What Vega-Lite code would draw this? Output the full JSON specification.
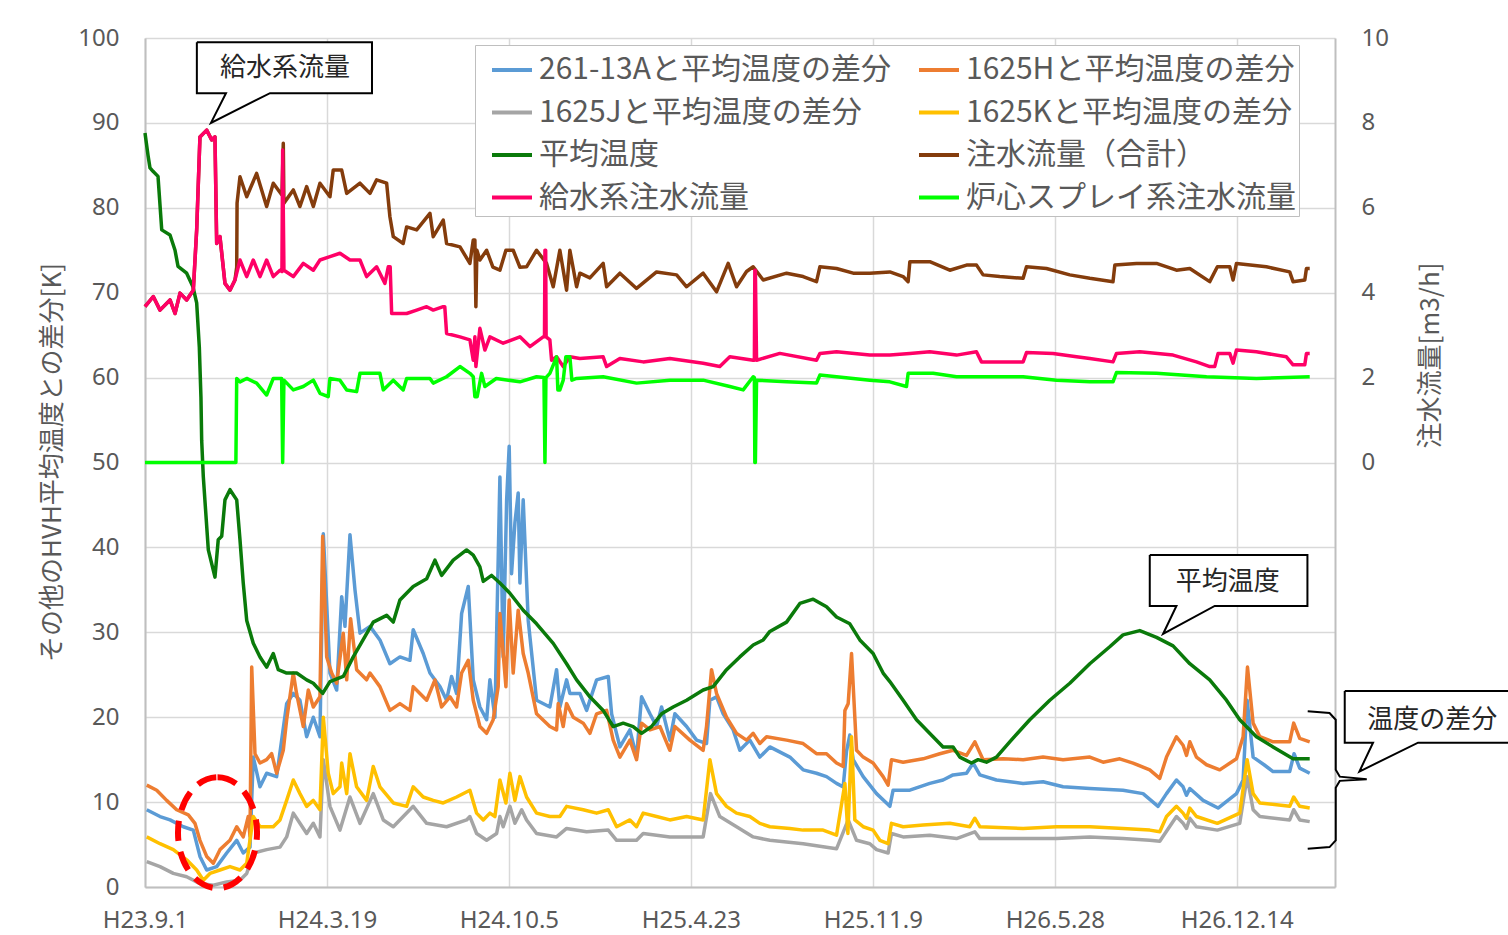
{
"$schema": "https://vega.github.io/schema/vega-lite/v6.json",
"width": 1190, "height": 849,
"autosize": "none",
"padding": {"left": 145, "top": 38, "right": 173, "bottom": 48},
"background": "white",
"config": {
  "view": {"stroke": null},
  "font": "Noto Sans",
  "axis": {"labelFont": "Noto Sans", "labelFontSize": 24, "labelColor": "#595959", "titleFont": "Noto Sans CJK JP", "titleFontSize": 26, "titleColor": "#595959", "titleFontWeight": "normal", "ticks": false, "domainColor": "#BFBFBF", "domainWidth": 2, "gridColor": "#D9D9D9", "gridWidth": 1.5, "labelFlush": false, "labelOverlap": false}
},
"datasets": {
"temp": [
{"series":"261-13Aと平均温度の差分","day":1.9,"value":9.1},{"series":"261-13Aと平均温度の差分","day":16.5,"value":8.3},{"series":"261-13Aと平均温度の差分","day":27.5,"value":7.9},{"series":"261-13Aと平均温度の差分","day":42.1,"value":7.1},{"series":"261-13Aと平均温度の差分","day":53.1,"value":6.7},{"series":"261-13Aと平均温度の差分","day":60.4,"value":3.6},{"series":"261-13Aと平均温度の差分","day":67.8,"value":2.0},{"series":"261-13Aと平均温度の差分","day":78.8,"value":2.4},{"series":"261-13Aと平均温度の差分","day":89.8,"value":4.0},{"series":"261-13Aと平均温度の差分","day":100.8,"value":5.5},{"series":"261-13Aと平均温度の差分","day":108,"value":4.0},{"series":"261-13Aと平均温度の差分","day":115.4,"value":4.7},{"series":"261-13Aと平均温度の差分","day":119,"value":15.3},{"series":"261-13Aと平均温度の差分","day":126.4,"value":11.8},{"series":"261-13Aと平均温度の差分","day":133.7,"value":13.4},{"series":"261-13Aと平均温度の差分","day":144.7,"value":13.0},{"series":"261-13Aと平均温度の差分","day":155.7,"value":21.6},{"series":"261-13Aと平均温度の差分","day":163,"value":22.8},{"series":"261-13Aと平均温度の差分","day":170.3,"value":22.0},{"series":"261-13Aと平均温度の差分","day":177.7,"value":17.7},{"series":"261-13Aと平均温度の差分","day":185,"value":20.0},{"series":"261-13Aと平均温度の差分","day":192.3,"value":17.7},{"series":"261-13Aと平均温度の差分","day":196,"value":41.6},{"series":"261-13Aと平均温度の差分","day":203.3,"value":25.2},{"series":"261-13Aと平均温度の差分","day":210.7,"value":23.2},{"series":"261-13Aと平均温度の差分","day":216.2,"value":34.2},{"series":"261-13Aと平均温度の差分","day":219.8,"value":30.7},{"series":"261-13Aと平均温度の差分","day":225.3,"value":41.5},{"series":"261-13Aと平均温度の差分","day":230.8,"value":35.0},{"series":"261-13Aと平均温度の差分","day":236.3,"value":29.9},{"series":"261-13Aと平均温度の差分","day":247.3,"value":30.7},{"series":"261-13Aと平均温度の差分","day":258.2,"value":29.1},{"series":"261-13Aと平均温度の差分","day":269.2,"value":26.3},{"series":"261-13Aと平均温度の差分","day":280.2,"value":27.1},{"series":"261-13Aと平均温度の差分","day":291.2,"value":26.7},{"series":"261-13Aと平均温度の差分","day":294.8,"value":30.3},{"series":"261-13Aと平均温度の差分","day":305.8,"value":27.5},{"series":"261-13Aと平均温度の差分","day":313.2,"value":25.2},{"series":"261-13Aと平均温度の差分","day":324.2,"value":23.6},{"series":"261-13Aと平均温度の差分","day":331.5,"value":22.0},{"series":"261-13Aと平均温度の差分","day":337,"value":24.8},{"series":"261-13Aと平均温度の差分","day":342.5,"value":22.8},{"series":"261-13Aと平均温度の差分","day":348,"value":32.2},{"series":"261-13Aと平均温度の差分","day":355.3,"value":35.4},{"series":"261-13Aと平均温度の差分","day":360.8,"value":24.4},{"series":"261-13Aと平均温度の差分","day":368.1,"value":21.2},{"series":"261-13Aと平均温度の差分","day":375.5,"value":19.7},{"series":"261-13Aと平均温度の差分","day":379.1,"value":24.4},{"series":"261-13Aと平均温度の差分","day":384.6,"value":20.0},{"series":"261-13Aと平均温度の差分","day":390.1,"value":48.3},{"series":"261-13Aと平均温度の差分","day":393.7,"value":27.1},{"series":"261-13Aと平均温度の差分","day":397.5,"value":45.6},{"series":"261-13Aと平均温度の差分","day":400.3,"value":51.9},{"series":"261-13Aと平均温度の差分","day":402.9,"value":36.9},{"series":"261-13Aと平均温度の差分","day":406.6,"value":42.9},{"series":"261-13Aと平均温度の差分","day":410.2,"value":46.4},{"series":"261-13Aと平均温度の差分","day":412.1,"value":35.8},{"series":"261-13Aと平均温度の差分","day":415.7,"value":45.6},{"series":"261-13Aと平均温度の差分","day":421.2,"value":31.4},{"series":"261-13Aと平均温度の差分","day":430.4,"value":22.0},{"series":"261-13Aと平均温度の差分","day":445,"value":21.2},{"series":"261-13Aと平均温度の差分","day":452.4,"value":25.6},{"series":"261-13Aと平均温度の差分","day":456,"value":21.2},{"series":"261-13Aと平均温度の差分","day":463.4,"value":24.4},{"series":"261-13Aと平均温度の差分","day":467,"value":22.8},{"series":"261-13Aと平均温度の差分","day":478,"value":22.8},{"series":"261-13Aと平均温度の差分","day":485.4,"value":20.8},{"series":"261-13Aと平均温度の差分","day":496.4,"value":24.4},{"series":"261-13Aと平均温度の差分","day":509.2,"value":24.8},{"series":"261-13Aと平均温度の差分","day":512.9,"value":20.4},{"series":"261-13Aと平均温度の差分","day":522,"value":16.5},{"series":"261-13Aと平均温度の差分","day":533,"value":18.5},{"series":"261-13Aと平均温度の差分","day":540.3,"value":15.3},{"series":"261-13Aと平均温度の差分","day":545.8,"value":22.4},{"series":"261-13Aと平均温度の差分","day":555,"value":20.4},{"series":"261-13Aと平均温度の差分","day":562.3,"value":18.9},{"series":"261-13Aと平均温度の差分","day":567.8,"value":21.2},{"series":"261-13Aと平均温度の差分","day":576.9,"value":17.3},{"series":"261-13Aと平均温度の差分","day":582.4,"value":20.4},{"series":"261-13Aと平均温度の差分","day":595.3,"value":18.9},{"series":"261-13Aと平均温度の差分","day":606.3,"value":17.3},{"series":"261-13Aと平均温度の差分","day":617.2,"value":16.9},{"series":"261-13Aと平均温度の差分","day":620.9,"value":22.0},{"series":"261-13Aと平均温度の差分","day":628.2,"value":22.4},{"series":"261-13Aと平均温度の差分","day":635.5,"value":20.4},{"series":"261-13Aと平均温度の差分","day":646.5,"value":18.5},{"series":"261-13Aと平均温度の差分","day":653.8,"value":16.1},{"series":"261-13Aと平均温度の差分","day":664.8,"value":17.3},{"series":"261-13Aと平均温度の差分","day":675.8,"value":15.3},{"series":"261-13Aと平均温度の差分","day":686.8,"value":16.5},{"series":"261-13Aと平均温度の差分","day":708.8,"value":15.3},{"series":"261-13Aと平均温度の差分","day":723.4,"value":13.8},{"series":"261-13Aと平均温度の差分","day":738.1,"value":13.4},{"series":"261-13Aと平均温度の差分","day":749.1,"value":13.0},{"series":"261-13Aと平均温度の差分","day":760.1,"value":12.2},{"series":"261-13Aと平均温度の差分","day":767.4,"value":11.8},{"series":"261-13Aと平均温度の差分","day":771.1,"value":16.0},{"series":"261-13Aと平均温度の差分","day":774.7,"value":17.9},{"series":"261-13Aと平均温度の差分","day":778.4,"value":15.0},{"series":"261-13Aと平均温度の差分","day":789.4,"value":13.0},{"series":"261-13Aと平均温度の差分","day":804.1,"value":11.0},{"series":"261-13Aと平均温度の差分","day":815,"value":9.9},{"series":"261-13Aと平均温度の差分","day":818.7,"value":9.5},{"series":"261-13Aと平均温度の差分","day":822.3,"value":11.4},{"series":"261-13Aと平均温度の差分","day":840.7,"value":11.4},{"series":"261-13Aと平均温度の差分","day":862.6,"value":12.2},{"series":"261-13Aと平均温度の差分","day":877.2,"value":12.6},{"series":"261-13Aと平均温度の差分","day":888.2,"value":13.2},{"series":"261-13Aと平均温度の差分","day":903,"value":13.4},{"series":"261-13Aと平均温度の差分","day":910.3,"value":14.6},{"series":"261-13Aと平均温度の差分","day":917.6,"value":13.2},{"series":"261-13Aと平均温度の差分","day":935.9,"value":12.6},{"series":"261-13Aと平均温度の差分","day":965.2,"value":12.2},{"series":"261-13Aと平均温度の差分","day":987.1,"value":12.4},{"series":"261-13Aと平均温度の差分","day":1009.1,"value":11.8},{"series":"261-13Aと平均温度の差分","day":1038.5,"value":11.6},{"series":"261-13Aと平均温度の差分","day":1075,"value":11.4},{"series":"261-13Aと平均温度の差分","day":1097,"value":11.0},{"series":"261-13Aと平均温度の差分","day":1113.5,"value":9.5},{"series":"261-13Aと平均温度の差分","day":1122.8,"value":11.0},{"series":"261-13Aと平均温度の差分","day":1133.7,"value":12.6},{"series":"261-13Aと平均温度の差分","day":1141,"value":11.8},{"series":"261-13Aと平均温度の差分","day":1144.8,"value":10.8},{"series":"261-13Aと平均温度の差分","day":1148.4,"value":11.6},{"series":"261-13Aと平均温度の差分","day":1163,"value":10.2},{"series":"261-13Aと平均温度の差分","day":1179.5,"value":9.3},{"series":"261-13Aと平均温度の差分","day":1199.7,"value":11.0},{"series":"261-13Aと平均温度の差分","day":1207,"value":12.6},{"series":"261-13Aと平均温度の差分","day":1211.4,"value":22.0},{"series":"261-13Aと平均温度の差分","day":1218,"value":15.3},{"series":"261-13Aと平均温度の差分","day":1230,"value":14.4},{"series":"261-13Aと平均温度の差分","day":1239.9,"value":13.6},{"series":"261-13Aと平均温度の差分","day":1258.2,"value":13.6},{"series":"261-13Aと平均温度の差分","day":1263,"value":15.7},{"series":"261-13Aと平均温度の差分","day":1269.2,"value":14.0},{"series":"261-13Aと平均温度の差分","day":1280.2,"value":13.4},
{"series":"1625Hと平均温度の差分","day":1.9,"value":12.0},{"series":"1625Hと平均温度の差分","day":12.9,"value":11.4},{"series":"1625Hと平均温度の差分","day":23.8,"value":10.2},{"series":"1625Hと平均温度の差分","day":34.8,"value":9.1},{"series":"1625Hと平均温度の差分","day":47.6,"value":8.5},{"series":"1625Hと平均温度の差分","day":54.9,"value":7.5},{"series":"1625Hと平均温度の差分","day":60.4,"value":5.5},{"series":"1625Hと平均温度の差分","day":67.8,"value":3.6},{"series":"1625Hと平均温度の差分","day":75.1,"value":2.8},{"series":"1625Hと平均温度の差分","day":82.4,"value":4.4},{"series":"1625Hと平均温度の差分","day":93.4,"value":5.5},{"series":"1625Hと平均温度の差分","day":100.8,"value":7.1},{"series":"1625Hと平均温度の差分","day":108,"value":5.9},{"series":"1625Hと平均温度の差分","day":113.5,"value":8.3},{"series":"1625Hと平均温度の差分","day":115.4,"value":6.0},{"series":"1625Hと平均温度の差分","day":117.3,"value":25.9},{"series":"1625Hと平均温度の差分","day":120.9,"value":15.7},{"series":"1625Hと平均温度の差分","day":126.4,"value":14.6},{"series":"1625Hと平均温度の差分","day":133.7,"value":15.0},{"series":"1625Hと平均温度の差分","day":139.2,"value":15.7},{"series":"1625Hと平均温度の差分","day":144.7,"value":13.4},{"series":"1625Hと平均温度の差分","day":152,"value":16.1},{"series":"1625Hと平均温度の差分","day":155.7,"value":19.7},{"series":"1625Hと平均温度の差分","day":163,"value":25.2},{"series":"1625Hと平均温度の差分","day":166.6,"value":22.8},{"series":"1625Hと平均温度の差分","day":174,"value":18.9},{"series":"1625Hと平均温度の差分","day":179.5,"value":23.2},{"series":"1625Hと平均温度の差分","day":185,"value":21.2},{"series":"1625Hと平均温度の差分","day":192.3,"value":22.4},{"series":"1625Hと平均温度の差分","day":195.3,"value":41.3},{"series":"1625Hと平均温度の差分","day":199.7,"value":27.1},{"series":"1625Hと平均温度の差分","day":205.2,"value":25.2},{"series":"1625Hと平均温度の差分","day":210.7,"value":24.0},{"series":"1625Hと平均温度の差分","day":217.9,"value":29.9},{"series":"1625Hと平均温度の差分","day":221.7,"value":24.4},{"series":"1625Hと平均温度の差分","day":226,"value":31.6},{"series":"1625Hと平均温度の差分","day":232.6,"value":25.6},{"series":"1625Hと平均温度の差分","day":243.6,"value":24.4},{"series":"1625Hと平均温度の差分","day":247.3,"value":25.2},{"series":"1625Hと平均温度の差分","day":258.2,"value":23.6},{"series":"1625Hと平均温度の差分","day":269.2,"value":20.8},{"series":"1625Hと平均温度の差分","day":280.2,"value":21.6},{"series":"1625Hと平均温度の差分","day":291.2,"value":20.8},{"series":"1625Hと平均温度の差分","day":294.8,"value":23.6},{"series":"1625Hと平均温度の差分","day":302.2,"value":22.8},{"series":"1625Hと平均温度の差分","day":309.6,"value":22.0},{"series":"1625Hと平均温度の差分","day":318.7,"value":24.4},{"series":"1625Hと平均温度の差分","day":326,"value":21.2},{"series":"1625Hと平均温度の差分","day":335.2,"value":22.4},{"series":"1625Hと平均温度の差分","day":342.5,"value":21.2},{"series":"1625Hと平均温度の差分","day":348,"value":25.2},{"series":"1625Hと平均温度の差分","day":355.3,"value":26.7},{"series":"1625Hと平均温度の差分","day":360.8,"value":22.0},{"series":"1625Hと平均温度の差分","day":368.1,"value":18.9},{"series":"1625Hと平均温度の差分","day":375.5,"value":18.1},{"series":"1625Hと平均温度の差分","day":382.7,"value":19.7},{"series":"1625Hと平均温度の差分","day":388.2,"value":23.6},{"series":"1625Hと平均温度の差分","day":390.1,"value":32.2},{"series":"1625Hと平均温度の差分","day":396.7,"value":23.6},{"series":"1625Hと平均温度の差分","day":400.3,"value":33.8},{"series":"1625Hと平均温度の差分","day":404.7,"value":25.2},{"series":"1625Hと平均温度の差分","day":410.2,"value":32.6},{"series":"1625Hと平均温度の差分","day":415.7,"value":27.5},{"series":"1625Hと平均温度の差分","day":421.2,"value":25.2},{"series":"1625Hと平均温度の差分","day":430.4,"value":20.4},{"series":"1625Hと平均温度の差分","day":445,"value":18.9},{"series":"1625Hと平均温度の差分","day":452.4,"value":18.5},{"series":"1625Hと平均温度の差分","day":454.2,"value":21.6},{"series":"1625Hと平均温度の差分","day":459.7,"value":18.9},{"series":"1625Hと平均温度の差分","day":463.4,"value":21.6},{"series":"1625Hと平均温度の差分","day":470.7,"value":20.0},{"series":"1625Hと平均温度の差分","day":481.7,"value":19.3},{"series":"1625Hと平均温度の差分","day":489,"value":18.1},{"series":"1625Hと平均温度の差分","day":496.4,"value":20.4},{"series":"1625Hと平均温度の差分","day":507.4,"value":20.8},{"series":"1625Hと平均温度の差分","day":514.6,"value":17.3},{"series":"1625Hと平均温度の差分","day":522,"value":15.3},{"series":"1625Hと平均温度の差分","day":533,"value":17.3},{"series":"1625Hと平均温度の差分","day":540.3,"value":15.0},{"series":"1625Hと平均温度の差分","day":545.8,"value":19.3},{"series":"1625Hと平均温度の差分","day":555,"value":18.5},{"series":"1625Hと平均温度の差分","day":566,"value":18.9},{"series":"1625Hと平均温度の差分","day":576.9,"value":16.1},{"series":"1625Hと平均温度の差分","day":582.4,"value":18.9},{"series":"1625Hと平均温度の差分","day":598.9,"value":17.3},{"series":"1625Hと平均温度の差分","day":613.5,"value":16.1},{"series":"1625Hと平均温度の差分","day":617.2,"value":18.9},{"series":"1625Hと平均温度の差分","day":622.7,"value":25.6},{"series":"1625Hと平均温度の差分","day":628.2,"value":22.8},{"series":"1625Hと平均温度の差分","day":639.2,"value":20.0},{"series":"1625Hと平均温度の差分","day":650.2,"value":18.1},{"series":"1625Hと平均温度の差分","day":661.2,"value":17.3},{"series":"1625Hと平均温度の差分","day":668.5,"value":18.1},{"series":"1625Hと平均温度の差分","day":675.8,"value":16.9},{"series":"1625Hと平均温度の差分","day":683.2,"value":17.7},{"series":"1625Hと平均温度の差分","day":705.2,"value":17.3},{"series":"1625Hと平均温度の差分","day":723.4,"value":16.9},{"series":"1625Hと平均温度の差分","day":738.1,"value":15.7},{"series":"1625Hと平均温度の差分","day":749.1,"value":15.7},{"series":"1625Hと平均温度の差分","day":760.1,"value":14.6},{"series":"1625Hと平均温度の差分","day":767.4,"value":14.2},{"series":"1625Hと平均温度の差分","day":769.3,"value":20.8},{"series":"1625Hと平均温度の差分","day":772.9,"value":21.6},{"series":"1625Hと平均温度の差分","day":776.6,"value":27.5},{"series":"1625Hと平均温度の差分","day":782.1,"value":16.1},{"series":"1625Hと平均温度の差分","day":789.4,"value":15.3},{"series":"1625Hと平均温度の差分","day":800.3,"value":14.6},{"series":"1625Hと平均温度の差分","day":811.3,"value":13.0},{"series":"1625Hと平均温度の差分","day":816.8,"value":12.0},{"series":"1625Hと平均温度の差分","day":820.5,"value":15.0},{"series":"1625Hと平均温度の差分","day":833.3,"value":14.7},{"series":"1625Hと平均温度の差分","day":855.3,"value":15.1},{"series":"1625Hと平均温度の差分","day":873.6,"value":15.7},{"series":"1625Hと平均温度の差分","day":888.2,"value":16.1},{"series":"1625Hと平均温度の差分","day":903,"value":15.5},{"series":"1625Hと平均温度の差分","day":912.1,"value":17.1},{"series":"1625Hと平均温度の差分","day":921.2,"value":15.0},{"series":"1625Hと平均温度の差分","day":943.2,"value":15.1},{"series":"1625Hと平均温度の差分","day":965.2,"value":15.0},{"series":"1625Hと平均温度の差分","day":987.1,"value":15.3},{"series":"1625Hと平均温度の差分","day":1009.1,"value":15.0},{"series":"1625Hと平均温度の差分","day":1038.5,"value":15.3},{"series":"1625Hと平均温度の差分","day":1053.1,"value":14.7},{"series":"1625Hと平均温度の差分","day":1071.4,"value":15.1},{"series":"1625Hと平均温度の差分","day":1086,"value":14.6},{"series":"1625Hと平均温度の差分","day":1104.4,"value":13.8},{"series":"1625Hと平均温度の差分","day":1115.4,"value":12.8},{"series":"1625Hと平均温度の差分","day":1122.8,"value":15.3},{"series":"1625Hと平均温度の差分","day":1133.7,"value":17.7},{"series":"1625Hと平均温度の差分","day":1141,"value":16.7},{"series":"1625Hと平均温度の差分","day":1144.8,"value":15.5},{"series":"1625Hと平均温度の差分","day":1148.4,"value":17.1},{"series":"1625Hと平均温度の差分","day":1155.7,"value":15.3},{"series":"1625Hと平均温度の差分","day":1166.8,"value":14.4},{"series":"1625Hと平均温度の差分","day":1181.3,"value":13.8},{"series":"1625Hと平均温度の差分","day":1199.7,"value":15.1},{"series":"1625Hと平均温度の差分","day":1207,"value":17.7},{"series":"1625Hと平均温度の差分","day":1211.8,"value":25.9},{"series":"1625Hと平均温度の差分","day":1218,"value":19.3},{"series":"1625Hと平均温度の差分","day":1225.4,"value":17.7},{"series":"1625Hと平均温度の差分","day":1239.9,"value":17.1},{"series":"1625Hと平均温度の差分","day":1258.2,"value":17.1},{"series":"1625Hと平均温度の差分","day":1262.6,"value":19.3},{"series":"1625Hと平均温度の差分","day":1269.2,"value":17.5},{"series":"1625Hと平均温度の差分","day":1280.2,"value":17.1},
{"series":"1625Jと平均温度の差分","day":1.9,"value":3.0},{"series":"1625Jと平均温度の差分","day":16.5,"value":2.4},{"series":"1625Jと平均温度の差分","day":31.1,"value":1.6},{"series":"1625Jと平均温度の差分","day":45.8,"value":1.2},{"series":"1625Jと平均温度の差分","day":60.4,"value":0.4},{"series":"1625Jと平均温度の差分","day":75.1,"value":0.2},{"series":"1625Jと平均温度の差分","day":89.8,"value":0.6},{"series":"1625Jと平均温度の差分","day":104.4,"value":0.8},{"series":"1625Jと平均温度の差分","day":111.8,"value":1.6},{"series":"1625Jと平均温度の差分","day":119,"value":4.0},{"series":"1625Jと平均温度の差分","day":133.7,"value":4.4},{"series":"1625Jと平均温度の差分","day":148.4,"value":4.7},{"series":"1625Jと平均温度の差分","day":155.7,"value":5.9},{"series":"1625Jと平均温度の差分","day":163,"value":8.7},{"series":"1625Jと平均温度の差分","day":170.3,"value":7.5},{"series":"1625Jと平均温度の差分","day":177.7,"value":6.3},{"series":"1625Jと平均温度の差分","day":185,"value":7.5},{"series":"1625Jと平均温度の差分","day":192.3,"value":5.9},{"series":"1625Jと平均温度の差分","day":196,"value":15.0},{"series":"1625Jと平均温度の差分","day":203.3,"value":9.5},{"series":"1625Jと平均温度の差分","day":214.3,"value":6.7},{"series":"1625Jと平均温度の差分","day":225.3,"value":10.6},{"series":"1625Jと平均温度の差分","day":236.3,"value":7.5},{"series":"1625Jと平均温度の差分","day":250.9,"value":11.0},{"series":"1625Jと平均温度の差分","day":261.9,"value":7.9},{"series":"1625Jと平均温度の差分","day":272.9,"value":7.1},{"series":"1625Jと平均温度の差分","day":294.8,"value":9.5},{"series":"1625Jと平均温度の差分","day":309.6,"value":7.5},{"series":"1625Jと平均温度の差分","day":331.5,"value":7.1},{"series":"1625Jと平均温度の差分","day":353.5,"value":7.9},{"series":"1625Jと平均温度の差分","day":357.1,"value":8.3},{"series":"1625Jと平均温度の差分","day":364.5,"value":6.3},{"series":"1625Jと平均温度の差分","day":375.5,"value":5.5},{"series":"1625Jと平均温度の差分","day":386.5,"value":6.3},{"series":"1625Jと平均温度の差分","day":390.1,"value":8.3},{"series":"1625Jと平均温度の差分","day":393.7,"value":7.1},{"series":"1625Jと平均温度の差分","day":401.1,"value":9.5},{"series":"1625Jと平均温度の差分","day":406.6,"value":7.5},{"series":"1625Jと平均温度の差分","day":414,"value":9.1},{"series":"1625Jと平均温度の差分","day":419.4,"value":7.9},{"series":"1625Jと平均温度の差分","day":430.4,"value":6.3},{"series":"1625Jと平均温度の差分","day":452.4,"value":5.9},{"series":"1625Jと平均温度の差分","day":463.4,"value":6.9},{"series":"1625Jと平均温度の差分","day":485.4,"value":6.5},{"series":"1625Jと平均温度の差分","day":509.2,"value":6.7},{"series":"1625Jと平均温度の差分","day":518.4,"value":5.5},{"series":"1625Jと平均温度の差分","day":540.3,"value":5.5},{"series":"1625Jと平均温度の差分","day":547.6,"value":6.3},{"series":"1625Jと平均温度の差分","day":576.9,"value":5.9},{"series":"1625Jと平均温度の差分","day":613.5,"value":5.9},{"series":"1625Jと平均温度の差分","day":621.6,"value":11.0},{"series":"1625Jと平均温度の差分","day":631.8,"value":8.3},{"series":"1625Jと平均温度の差分","day":650.2,"value":7.1},{"series":"1625Jと平均温度の差分","day":668.5,"value":5.9},{"series":"1625Jと平均温度の差分","day":686.8,"value":5.5},{"series":"1625Jと平均温度の差分","day":723.4,"value":5.1},{"series":"1625Jと平均温度の差分","day":760.1,"value":4.5},{"series":"1625Jと平均温度の差分","day":772.9,"value":7.9},{"series":"1625Jと平均温度の差分","day":782.1,"value":5.5},{"series":"1625Jと平均温度の差分","day":796.7,"value":5.1},{"series":"1625Jと平均温度の差分","day":804.1,"value":4.4},{"series":"1625Jと平均温度の差分","day":816.8,"value":4.0},{"series":"1625Jと平均温度の差分","day":820.5,"value":6.3},{"series":"1625Jと平均温度の差分","day":833.3,"value":5.9},{"series":"1625Jと平均温度の差分","day":862.6,"value":6.1},{"series":"1625Jと平均温度の差分","day":892,"value":5.7},{"series":"1625Jと平均温度の差分","day":912.1,"value":6.5},{"series":"1625Jと平均温度の差分","day":917.6,"value":5.7},{"series":"1625Jと平均温度の差分","day":965.2,"value":5.7},{"series":"1625Jと平均温度の差分","day":1001.8,"value":5.7},{"series":"1625Jと平均温度の差分","day":1038.5,"value":5.9},{"series":"1625Jと平均温度の差分","day":1075,"value":5.7},{"series":"1625Jと平均温度の差分","day":1104.4,"value":5.5},{"series":"1625Jと平均温度の差分","day":1115.4,"value":5.4},{"series":"1625Jと平均温度の差分","day":1133.7,"value":8.3},{"series":"1625Jと平均温度の差分","day":1141,"value":7.5},{"series":"1625Jと平均温度の差分","day":1144.8,"value":6.9},{"series":"1625Jと平均温度の差分","day":1148.4,"value":8.1},{"series":"1625Jと平均温度の差分","day":1155.7,"value":7.1},{"series":"1625Jと平均温度の差分","day":1178.7,"value":6.7},{"series":"1625Jと平均温度の差分","day":1203.3,"value":7.5},{"series":"1625Jと平均温度の差分","day":1211.4,"value":13.0},{"series":"1625Jと平均温度の差分","day":1218,"value":9.1},{"series":"1625Jと平均温度の差分","day":1225.4,"value":8.3},{"series":"1625Jと平均温度の差分","day":1258.2,"value":7.9},{"series":"1625Jと平均温度の差分","day":1262.6,"value":9.1},{"series":"1625Jと平均温度の差分","day":1269.2,"value":7.9},{"series":"1625Jと平均温度の差分","day":1280.2,"value":7.7},
{"series":"1625Kと平均温度の差分","day":1.9,"value":5.9},{"series":"1625Kと平均温度の差分","day":16.5,"value":5.1},{"series":"1625Kと平均温度の差分","day":31.1,"value":4.4},{"series":"1625Kと平均温度の差分","day":45.8,"value":3.2},{"series":"1625Kと平均温度の差分","day":56.8,"value":2.0},{"series":"1625Kと平均温度の差分","day":64.1,"value":0.8},{"series":"1625Kと平均温度の差分","day":71.4,"value":1.6},{"series":"1625Kと平均温度の差分","day":82.4,"value":2.0},{"series":"1625Kと平均温度の差分","day":93.4,"value":2.4},{"series":"1625Kと平均温度の差分","day":104.4,"value":2.0},{"series":"1625Kと平均温度の差分","day":111.8,"value":2.8},{"series":"1625Kと平均温度の差分","day":119,"value":8.3},{"series":"1625Kと平均温度の差分","day":126.4,"value":7.1},{"series":"1625Kと平均温度の差分","day":141,"value":7.1},{"series":"1625Kと平均温度の差分","day":148.4,"value":7.9},{"series":"1625Kと平均温度の差分","day":155.7,"value":10.2},{"series":"1625Kと平均温度の差分","day":163,"value":12.6},{"series":"1625Kと平均温度の差分","day":170.3,"value":11.0},{"series":"1625Kと平均温度の差分","day":177.7,"value":9.5},{"series":"1625Kと平均温度の差分","day":185,"value":10.2},{"series":"1625Kと平均温度の差分","day":192.3,"value":9.1},{"series":"1625Kと平均温度の差分","day":196,"value":20.0},{"series":"1625Kと平均温度の差分","day":201.4,"value":13.4},{"series":"1625Kと平均温度の差分","day":206.9,"value":11.0},{"series":"1625Kと平均温度の差分","day":214.3,"value":11.8},{"series":"1625Kと平均温度の差分","day":216.2,"value":14.6},{"series":"1625Kと平均温度の差分","day":221.7,"value":11.0},{"series":"1625Kと平均温度の差分","day":225.3,"value":15.7},{"series":"1625Kと平均温度の差分","day":232.6,"value":11.8},{"series":"1625Kと平均温度の差分","day":243.6,"value":10.2},{"series":"1625Kと平均温度の差分","day":250.9,"value":14.2},{"series":"1625Kと平均温度の差分","day":258.2,"value":11.8},{"series":"1625Kと平均温度の差分","day":272.9,"value":9.9},{"series":"1625Kと平均温度の差分","day":287.6,"value":9.5},{"series":"1625Kと平均温度の差分","day":294.8,"value":11.8},{"series":"1625Kと平均温度の差分","day":305.8,"value":10.6},{"series":"1625Kと平均温度の差分","day":316.8,"value":10.2},{"series":"1625Kと平均温度の差分","day":327.8,"value":9.9},{"series":"1625Kと平均温度の差分","day":342.5,"value":10.6},{"series":"1625Kと平均温度の差分","day":357.1,"value":11.4},{"series":"1625Kと平均温度の差分","day":364.5,"value":8.7},{"series":"1625Kと平均温度の差分","day":371.8,"value":7.9},{"series":"1625Kと平均温度の差分","day":379.1,"value":8.7},{"series":"1625Kと平均温度の差分","day":384.6,"value":8.3},{"series":"1625Kと平均温度の差分","day":390.1,"value":12.6},{"series":"1625Kと平均温度の差分","day":396.7,"value":9.9},{"series":"1625Kと平均温度の差分","day":401.1,"value":13.4},{"series":"1625Kと平均温度の差分","day":406.6,"value":10.2},{"series":"1625Kと平均温度の差分","day":412.1,"value":13.0},{"series":"1625Kと平均温度の差分","day":419.4,"value":10.6},{"series":"1625Kと平均温度の差分","day":430.4,"value":8.7},{"series":"1625Kと平均温度の差分","day":445,"value":8.3},{"series":"1625Kと平均温度の差分","day":456,"value":8.3},{"series":"1625Kと平均温度の差分","day":463.4,"value":9.5},{"series":"1625Kと平均温度の差分","day":481.7,"value":9.1},{"series":"1625Kと平均温度の差分","day":496.4,"value":8.7},{"series":"1625Kと平均温度の差分","day":509.2,"value":9.1},{"series":"1625Kと平均温度の差分","day":518.4,"value":7.1},{"series":"1625Kと平均温度の差分","day":533,"value":7.9},{"series":"1625Kと平均温度の差分","day":540.3,"value":7.1},{"series":"1625Kと平均温度の差分","day":547.6,"value":8.7},{"series":"1625Kと平均温度の差分","day":562.3,"value":8.3},{"series":"1625Kと平均温度の差分","day":576.9,"value":7.9},{"series":"1625Kと平均温度の差分","day":595.3,"value":8.3},{"series":"1625Kと平均温度の差分","day":613.5,"value":7.9},{"series":"1625Kと平均温度の差分","day":620.9,"value":15.0},{"series":"1625Kと平均温度の差分","day":628.2,"value":11.0},{"series":"1625Kと平均温度の差分","day":639.2,"value":9.5},{"series":"1625Kと平均温度の差分","day":650.2,"value":8.7},{"series":"1625Kと平均温度の差分","day":664.8,"value":8.3},{"series":"1625Kと平均温度の差分","day":675.8,"value":7.5},{"series":"1625Kと平均温度の差分","day":686.8,"value":7.1},{"series":"1625Kと平均温度の差分","day":708.8,"value":6.9},{"series":"1625Kと平均温度の差分","day":723.4,"value":6.7},{"series":"1625Kと平均温度の差分","day":745.3,"value":6.7},{"series":"1625Kと平均温度の差分","day":760.1,"value":6.1},{"series":"1625Kと平均温度の差分","day":769.3,"value":12.2},{"series":"1625Kと平均温度の差分","day":772.6,"value":6.3},{"series":"1625Kと平均温度の差分","day":776.6,"value":17.7},{"series":"1625Kと平均温度の差分","day":780.2,"value":7.9},{"series":"1625Kと平均温度の差分","day":789.4,"value":7.1},{"series":"1625Kと平均温度の差分","day":800.3,"value":6.7},{"series":"1625Kと平均温度の差分","day":807.7,"value":5.5},{"series":"1625Kと平均温度の差分","day":816.8,"value":5.1},{"series":"1625Kと平均温度の差分","day":820.5,"value":7.5},{"series":"1625Kと平均温度の差分","day":833.3,"value":7.1},{"series":"1625Kと平均温度の差分","day":855.3,"value":7.3},{"series":"1625Kと平均温度の差分","day":884.6,"value":7.5},{"series":"1625Kと平均温度の差分","day":906.6,"value":7.1},{"series":"1625Kと平均温度の差分","day":912.1,"value":8.1},{"series":"1625Kと平均温度の差分","day":917.6,"value":7.1},{"series":"1625Kと平均温度の差分","day":965.2,"value":6.9},{"series":"1625Kと平均温度の差分","day":1001.8,"value":7.1},{"series":"1625Kと平均温度の差分","day":1038.5,"value":7.1},{"series":"1625Kと平均温度の差分","day":1075,"value":6.9},{"series":"1625Kと平均温度の差分","day":1104.4,"value":6.7},{"series":"1625Kと平均温度の差分","day":1115.4,"value":6.5},{"series":"1625Kと平均温度の差分","day":1122.8,"value":8.3},{"series":"1625Kと平均温度の差分","day":1133.7,"value":9.5},{"series":"1625Kと平均温度の差分","day":1141,"value":8.7},{"series":"1625Kと平均温度の差分","day":1144.8,"value":8.1},{"series":"1625Kと平均温度の差分","day":1148.4,"value":9.3},{"series":"1625Kと平均温度の差分","day":1155.7,"value":8.3},{"series":"1625Kと平均温度の差分","day":1178.7,"value":7.5},{"series":"1625Kと平均温度の差分","day":1203.3,"value":8.7},{"series":"1625Kと平均温度の差分","day":1211.4,"value":15.0},{"series":"1625Kと平均温度の差分","day":1218,"value":11.0},{"series":"1625Kと平均温度の差分","day":1225.4,"value":9.9},{"series":"1625Kと平均温度の差分","day":1258.2,"value":9.5},{"series":"1625Kと平均温度の差分","day":1262.6,"value":10.6},{"series":"1625Kと平均温度の差分","day":1269.2,"value":9.5},{"series":"1625Kと平均温度の差分","day":1280.2,"value":9.3},
{"series":"平均温度","day":0,"value":88.8},{"series":"平均温度","day":3.3,"value":86.2},{"series":"平均温度","day":5.5,"value":84.7},{"series":"平均温度","day":8.8,"value":84.3},{"series":"平均温度","day":14.3,"value":83.7},{"series":"平均温度","day":18.4,"value":77.4},{"series":"平均温度","day":27.5,"value":76.8},{"series":"平均温度","day":33,"value":75.0},{"series":"平均温度","day":36.3,"value":73.1},{"series":"平均温度","day":45.8,"value":72.3},{"series":"平均温度","day":52.7,"value":70.7},{"series":"平均温度","day":56.8,"value":68.8},{"series":"平均温度","day":59.7,"value":63.6},{"series":"平均温度","day":61.5,"value":57.7},{"series":"平均温度","day":62.3,"value":52.6},{"series":"平均温度","day":64.1,"value":48.3},{"series":"平均温度","day":69.6,"value":39.7},{"series":"平均温度","day":76.9,"value":36.5},{"series":"平均温度","day":80.5,"value":40.9},{"series":"平均温度","day":84.3,"value":41.3},{"series":"平均温度","day":87.9,"value":45.6},{"series":"平均温度","day":93.4,"value":46.8},{"series":"平均温度","day":100.8,"value":45.6},{"series":"平均温度","day":104.4,"value":40.9},{"series":"平均温度","day":108,"value":35.8},{"series":"平均温度","day":111.8,"value":31.4},{"series":"平均温度","day":119,"value":28.7},{"series":"平均温度","day":126.4,"value":27.1},{"series":"平均温度","day":133.7,"value":25.9},{"series":"平均温度","day":141,"value":27.5},{"series":"平均温度","day":146.5,"value":25.6},{"series":"平均温度","day":155.7,"value":25.2},{"series":"平均温度","day":166.7,"value":25.2},{"series":"平均温度","day":177.7,"value":24.4},{"series":"平均温度","day":185,"value":24.0},{"series":"平均温度","day":195.3,"value":22.8},{"series":"平均温度","day":203.3,"value":24.2},{"series":"平均温度","day":217.9,"value":24.8},{"series":"平均温度","day":228.9,"value":27.1},{"series":"平均温度","day":250.9,"value":31.2},{"series":"平均温度","day":265.6,"value":32.0},{"series":"平均温度","day":272.9,"value":31.2},{"series":"平均温度","day":280.2,"value":33.8},{"series":"平均温度","day":294.8,"value":35.4},{"series":"平均温度","day":309.6,"value":36.3},{"series":"平均温度","day":318.7,"value":38.5},{"series":"平均温度","day":326,"value":36.7},{"series":"平均温度","day":338.8,"value":38.5},{"series":"平均温度","day":353.5,"value":39.7},{"series":"平均温度","day":360.8,"value":39.1},{"series":"平均温度","day":368.1,"value":37.7},{"series":"平均温度","day":371.8,"value":36.0},{"series":"平均温度","day":381,"value":36.7},{"series":"平均温度","day":390.1,"value":35.8},{"series":"平均温度","day":401.1,"value":34.6},{"series":"平均温度","day":415.7,"value":32.6},{"series":"平均温度","day":430.4,"value":31.0},{"series":"平均温度","day":448.7,"value":28.7},{"series":"平均温度","day":463.4,"value":26.3},{"series":"平均温度","day":474.4,"value":24.4},{"series":"平均温度","day":489,"value":22.4},{"series":"平均温度","day":503.6,"value":20.8},{"series":"平均温度","day":514.6,"value":18.9},{"series":"平均温度","day":525.6,"value":19.3},{"series":"平均温度","day":536.6,"value":18.9},{"series":"平均温度","day":545.8,"value":18.1},{"series":"平均温度","day":556.8,"value":18.9},{"series":"平均温度","day":567.8,"value":20.4},{"series":"平均温度","day":580.5,"value":21.2},{"series":"平均温度","day":595.3,"value":22.0},{"series":"平均温度","day":613.5,"value":23.2},{"series":"平均温度","day":624.5,"value":23.6},{"series":"平均温度","day":639.2,"value":25.6},{"series":"平均温度","day":653.8,"value":27.1},{"series":"平均温度","day":668.5,"value":28.5},{"series":"平均温度","day":679.5,"value":29.1},{"series":"平均温度","day":686.8,"value":30.1},{"series":"平均温度","day":705.2,"value":31.2},{"series":"平均温度","day":719.8,"value":33.4},{"series":"平均温度","day":734.4,"value":33.9},{"series":"平均温度","day":749.1,"value":33.0},{"series":"平均温度","day":760.1,"value":31.8},{"series":"平均温度","day":774.7,"value":31.0},{"series":"平均温度","day":785.7,"value":29.1},{"series":"平均温度","day":800.3,"value":27.5},{"series":"平均温度","day":811.3,"value":25.2},{"series":"平均温度","day":818.7,"value":24.2},{"series":"平均温度","day":833.3,"value":22.0},{"series":"平均温度","day":848,"value":19.7},{"series":"平均温度","day":866.2,"value":17.7},{"series":"平均温度","day":877.2,"value":16.5},{"series":"平均温度","day":888.2,"value":16.5},{"series":"平均温度","day":895.6,"value":15.3},{"series":"平均温度","day":908.4,"value":14.6},{"series":"平均温度","day":915.7,"value":15.0},{"series":"平均温度","day":924.9,"value":14.7},{"series":"平均温度","day":935.9,"value":15.3},{"series":"平均温度","day":950.5,"value":17.1},{"series":"平均温度","day":972.5,"value":19.7},{"series":"平均温度","day":994.5,"value":22.0},{"series":"平均温度","day":1016.5,"value":24.0},{"series":"平均温度","day":1038.5,"value":26.3},{"series":"平均温度","day":1060.4,"value":28.3},{"series":"平均温度","day":1075,"value":29.7},{"series":"平均温度","day":1093.4,"value":30.2},{"series":"平均温度","day":1111.8,"value":29.4},{"series":"平均温度","day":1130,"value":28.4},{"series":"平均温度","day":1148.4,"value":26.3},{"series":"平均温度","day":1170.3,"value":24.4},{"series":"平均温度","day":1188.7,"value":22.0},{"series":"平均温度","day":1203.3,"value":19.7},{"series":"平均温度","day":1221.6,"value":17.7},{"series":"平均温度","day":1239.9,"value":16.5},{"series":"平均温度","day":1261.9,"value":15.1},{"series":"平均温度","day":1280.2,"value":15.1}
],
"flow": [
{"series":"注水流量（合計）","day":0,"value":3.67},{"series":"注水流量（合計）","day":9.1,"value":3.91},{"series":"注水流量（合計）","day":16.5,"value":3.59},{"series":"注水流量（合計）","day":27.5,"value":3.83},{"series":"注水流量（合計）","day":33,"value":3.51},{"series":"注水流量（合計）","day":38.5,"value":3.99},{"series":"注水流量（合計）","day":45.8,"value":3.83},{"series":"注水流量（合計）","day":53.1,"value":4.06},{"series":"注水流量（合計）","day":56.8,"value":5.48},{"series":"注水流量（合計）","day":60.4,"value":7.67},{"series":"注水流量（合計）","day":67.8,"value":7.83},{"series":"注水流量（合計）","day":73.3,"value":7.6},{"series":"注水流量（合計）","day":76.9,"value":7.67},{"series":"注水流量（合計）","day":78.8,"value":5.16},{"series":"注水流量（合計）","day":82.4,"value":5.32},{"series":"注水流量（合計）","day":87.9,"value":4.22},{"series":"注水流量（合計）","day":93.4,"value":4.06},{"series":"注水流量（合計）","day":98.9,"value":4.3},{"series":"注水流量（合計）","day":100.8,"value":4.6},{"series":"注水流量（合計）","day":101.2,"value":6.11},{"series":"注水流量（合計）","day":104.4,"value":6.73},{"series":"注水流量（合計）","day":111.8,"value":6.26},{"series":"注水流量（合計）","day":122.7,"value":6.81},{"series":"注水流量（合計）","day":133.7,"value":6.03},{"series":"注水流量（合計）","day":141,"value":6.58},{"series":"注水流量（合計）","day":150.5,"value":6.3},{"series":"注水流量（合計）","day":152,"value":7.52},{"series":"注水流量（合計）","day":152.7,"value":6.11},{"series":"注水流量（合計）","day":163,"value":6.42},{"series":"注水流量（合計）","day":170.3,"value":6.03},{"series":"注水流量（合計）","day":177.7,"value":6.5},{"series":"注水流量（合計）","day":185,"value":6.03},{"series":"注水流量（合計）","day":192.3,"value":6.58},{"series":"注水流量（合計）","day":203.3,"value":6.26},{"series":"注水流量（合計）","day":206.9,"value":6.89},{"series":"注水流量（合計）","day":216.2,"value":6.89},{"series":"注水流量（合計）","day":221.7,"value":6.34},{"series":"注水流量（合計）","day":236.3,"value":6.58},{"series":"注水流量（合計）","day":247.3,"value":6.34},{"series":"注水流量（合計）","day":254.6,"value":6.66},{"series":"注水流量（合計）","day":265.6,"value":6.58},{"series":"注水流量（合計）","day":269.2,"value":5.79},{"series":"注水流量（合計）","day":272.9,"value":5.32},{"series":"注水流量（合計）","day":283.8,"value":5.16},{"series":"注水流量（合計）","day":287.6,"value":5.55},{"series":"注水流量（合計）","day":298.6,"value":5.48},{"series":"注水流量（合計）","day":313.2,"value":5.87},{"series":"注水流量（合計）","day":316.8,"value":5.32},{"series":"注水流量（合計）","day":327.8,"value":5.71},{"series":"注水流量（合計）","day":331.5,"value":5.16},{"series":"注水流量（合計）","day":346.2,"value":5.08},{"series":"注水流量（合計）","day":357.1,"value":4.69},{"series":"注水流量（合計）","day":360.8,"value":5.24},{"series":"注水流量（合計）","day":362.6,"value":5.24},{"series":"注水流量（合計）","day":363.7,"value":3.67},{"series":"注水流量（合計）","day":364.8,"value":5.0},{"series":"注水流量（合計）","day":368.1,"value":4.77},{"series":"注水流量（合計）","day":375.5,"value":5.0},{"series":"注水流量（合計）","day":382.4,"value":4.6},{"series":"注水流量（合計）","day":390.1,"value":4.53},{"series":"注水流量（合計）","day":396.7,"value":5.0},{"series":"注水流量（合計）","day":404.7,"value":5.0},{"series":"注水流量（合計）","day":412.1,"value":4.6},{"series":"注水流量（合計）","day":419.4,"value":4.61},{"series":"注水流量（合計）","day":430.4,"value":5.0},{"series":"注水流量（合計）","day":441.4,"value":4.69},{"series":"注水流量（合計）","day":448.7,"value":4.14},{"series":"注水流量（合計）","day":456,"value":5.0},{"series":"注水流量（合計）","day":463.4,"value":4.06},{"series":"注水流量（合計）","day":467,"value":5.0},{"series":"注水流量（合計）","day":474.4,"value":4.14},{"series":"注水流量（合計）","day":478,"value":4.46},{"series":"注水流量（合計）","day":489,"value":4.35},{"series":"注水流量（合計）","day":503.6,"value":4.69},{"series":"注水流量（合計）","day":507.4,"value":4.14},{"series":"注水流量（合計）","day":522,"value":4.46},{"series":"注水流量（合計）","day":540.3,"value":4.1},{"series":"注水流量（合計）","day":562.3,"value":4.49},{"series":"注水流量（合計）","day":584.3,"value":4.42},{"series":"注水流量（合計）","day":595.3,"value":4.14},{"series":"注水流量（合計）","day":613.5,"value":4.46},{"series":"注水流量（合計）","day":628.2,"value":4.02},{"series":"注水流量（合計）","day":641,"value":4.69},{"series":"注水流量（合計）","day":650.2,"value":4.14},{"series":"注水流量（合計）","day":661.2,"value":4.5},{"series":"注水流量（合計）","day":668.5,"value":4.61},{"series":"注水流量（合計）","day":679.5,"value":4.3},{"series":"注水流量（合計）","day":705.2,"value":4.46},{"series":"注水流量（合計）","day":723.4,"value":4.38},{"series":"注水流量（合計）","day":738.1,"value":4.26},{"series":"注水流量（合計）","day":741.8,"value":4.61},{"series":"注水流量（合計）","day":760.1,"value":4.57},{"series":"注水流量（合計）","day":778.4,"value":4.46},{"series":"注水流量（合計）","day":796.7,"value":4.46},{"series":"注水流量（合計）","day":818.7,"value":4.49},{"series":"注水流量（合計）","day":833.3,"value":4.38},{"series":"注水流量（合計）","day":838.8,"value":4.26},{"series":"注水流量（合計）","day":840.7,"value":4.73},{"series":"注水流量（合計）","day":862.6,"value":4.73},{"series":"注水流量（合計）","day":884.6,"value":4.53},{"series":"注水流量（合計）","day":903,"value":4.65},{"series":"注水流量（合計）","day":914,"value":4.65},{"series":"注水流量（合計）","day":921.2,"value":4.42},{"series":"注水流量（合計）","day":939.5,"value":4.38},{"series":"注水流量（合計）","day":965.2,"value":4.34},{"series":"注水流量（合計）","day":968.9,"value":4.61},{"series":"注水流量（合計）","day":990.9,"value":4.57},{"series":"注水流量（合計）","day":1016.5,"value":4.42},{"series":"注水流量（合計）","day":1038.5,"value":4.34},{"series":"注水流量（合計）","day":1064,"value":4.26},{"series":"注水流量（合計）","day":1066,"value":4.65},{"series":"注水流量（合計）","day":1089.8,"value":4.69},{"series":"注水流量（合計）","day":1111.8,"value":4.69},{"series":"注水流量（合計）","day":1133.7,"value":4.53},{"series":"注水流量（合計）","day":1148.4,"value":4.57},{"series":"注水流量（合計）","day":1170.3,"value":4.26},{"series":"注水流量（合計）","day":1178.7,"value":4.61},{"series":"注水流量（合計）","day":1192.3,"value":4.61},{"series":"注水流量（合計）","day":1196,"value":4.3},{"series":"注水流量（合計）","day":1199.7,"value":4.69},{"series":"注水流量（合計）","day":1232.6,"value":4.61},{"series":"注水流量（合計）","day":1258.2,"value":4.49},{"series":"注水流量（合計）","day":1261.9,"value":4.26},{"series":"注水流量（合計）","day":1274.8,"value":4.3},{"series":"注水流量（合計）","day":1276.6,"value":4.57},{"series":"注水流量（合計）","day":1280.2,"value":4.57},
{"series":"給水系注水流量","day":0,"value":3.67},{"series":"給水系注水流量","day":9.1,"value":3.91},{"series":"給水系注水流量","day":16.5,"value":3.59},{"series":"給水系注水流量","day":27.5,"value":3.83},{"series":"給水系注水流量","day":33,"value":3.51},{"series":"給水系注水流量","day":38.5,"value":3.99},{"series":"給水系注水流量","day":45.8,"value":3.83},{"series":"給水系注水流量","day":53.1,"value":4.06},{"series":"給水系注水流量","day":56.8,"value":5.48},{"series":"給水系注水流量","day":60.4,"value":7.67},{"series":"給水系注水流量","day":67.8,"value":7.83},{"series":"給水系注水流量","day":73.3,"value":7.6},{"series":"給水系注水流量","day":76.9,"value":7.67},{"series":"給水系注水流量","day":78.8,"value":5.16},{"series":"給水系注水流量","day":82.4,"value":5.32},{"series":"給水系注水流量","day":87.9,"value":4.22},{"series":"給水系注水流量","day":93.4,"value":4.06},{"series":"給水系注水流量","day":98.9,"value":4.3},{"series":"給水系注水流量","day":104.4,"value":4.77},{"series":"給水系注水流量","day":111.8,"value":4.38},{"series":"給水系注水流量","day":119,"value":4.77},{"series":"給水系注水流量","day":126.4,"value":4.38},{"series":"給水系注水流量","day":133.7,"value":4.77},{"series":"給水系注水流量","day":141,"value":4.38},{"series":"給水系注水流量","day":148.4,"value":4.53},{"series":"給水系注水流量","day":150.5,"value":4.5},{"series":"給水系注水流量","day":151.3,"value":7.36},{"series":"給水系注水流量","day":152.7,"value":4.53},{"series":"給水系注水流量","day":163,"value":4.38},{"series":"給水系注水流量","day":174,"value":4.69},{"series":"給水系注水流量","day":185,"value":4.53},{"series":"給水系注水流量","day":192.3,"value":4.77},{"series":"給水系注水流量","day":203.3,"value":4.85},{"series":"給水系注水流量","day":214.3,"value":4.93},{"series":"給水系注水流量","day":225.3,"value":4.77},{"series":"給水系注水流量","day":236.3,"value":4.77},{"series":"給水系注水流量","day":243.6,"value":4.38},{"series":"給水系注水流量","day":254.6,"value":4.61},{"series":"給水系注水流量","day":263.7,"value":4.22},{"series":"給水系注水流量","day":267.4,"value":4.61},{"series":"給水系注水流量","day":269.5,"value":4.61},{"series":"給水系注水流量","day":271.1,"value":3.51},{"series":"給水系注水流量","day":287.6,"value":3.51},{"series":"給水系注水流量","day":298.6,"value":3.59},{"series":"給水系注水流量","day":309.6,"value":3.67},{"series":"給水系注水流量","day":316.8,"value":3.59},{"series":"給水系注水流量","day":327.8,"value":3.67},{"series":"給水系注水流量","day":329.5,"value":3.67},{"series":"給水系注水流量","day":331.5,"value":3.04},{"series":"給水系注水流量","day":346.2,"value":2.96},{"series":"給水系注水流量","day":357.1,"value":2.89},{"series":"給水系注水流量","day":360.8,"value":2.41},{"series":"給水系注水流量","day":362.6,"value":2.96},{"series":"給水系注水流量","day":363.7,"value":2.26},{"series":"給水系注水流量","day":368.1,"value":3.16},{"series":"給水系注水流量","day":373.6,"value":2.65},{"series":"給水系注水流量","day":379.1,"value":2.96},{"series":"給水系注水流量","day":393.7,"value":2.81},{"series":"給水系注水流量","day":412.1,"value":2.96},{"series":"給水系注水流量","day":423.1,"value":2.73},{"series":"給水系注水流量","day":437.7,"value":2.96},{"series":"給水系注水流量","day":439.1,"value":2.96},{"series":"給水系注水流量","day":439.6,"value":5.0},{"series":"給水系注水流量","day":440.4,"value":5.0},{"series":"給水系注水流量","day":440.9,"value":2.96},{"series":"給水系注水流量","day":445,"value":2.89},{"series":"給水系注水流量","day":446.9,"value":2.41},{"series":"給水系注水流量","day":452.4,"value":2.49},{"series":"給水系注水流量","day":459.7,"value":2.26},{"series":"給水系注水流量","day":467,"value":2.49},{"series":"給水系注水流量","day":478,"value":2.45},{"series":"給水系注水流量","day":503.6,"value":2.49},{"series":"給水系注水流量","day":507.4,"value":2.26},{"series":"給水系注水流量","day":522,"value":2.45},{"series":"給水系注水流量","day":547.6,"value":2.37},{"series":"給水系注水流量","day":576.9,"value":2.45},{"series":"給水系注水流量","day":613.5,"value":2.34},{"series":"給水系注水流量","day":631.8,"value":2.26},{"series":"給水系注水流量","day":642.8,"value":2.49},{"series":"給水系注水流量","day":668.5,"value":2.41},{"series":"給水系注水流量","day":669.8,"value":2.41},{"series":"給水系注水流量","day":670.3,"value":4.53},{"series":"給水系注水流量","day":670.9,"value":4.53},{"series":"給水系注水流量","day":672.2,"value":2.41},{"series":"給水系注水流量","day":697.8,"value":2.57},{"series":"給水系注水流量","day":738.1,"value":2.41},{"series":"給水系注水流量","day":741.8,"value":2.57},{"series":"給水系注水流量","day":760.1,"value":2.61},{"series":"給水系注水流量","day":796.7,"value":2.53},{"series":"給水系注水流量","day":818.7,"value":2.53},{"series":"給水系注水流量","day":840.7,"value":2.57},{"series":"給水系注水流量","day":862.6,"value":2.61},{"series":"給水系注水流量","day":892,"value":2.53},{"series":"給水系注水流量","day":913.9,"value":2.61},{"series":"給水系注水流量","day":919.4,"value":2.37},{"series":"給水系注水流量","day":965.2,"value":2.37},{"series":"給水系注水流量","day":968.9,"value":2.59},{"series":"給水系注水流量","day":998.1,"value":2.57},{"series":"給水系注水流量","day":1023.9,"value":2.49},{"series":"給水系注水流量","day":1038.5,"value":2.45},{"series":"給水系注水流量","day":1064,"value":2.37},{"series":"給水系注水流量","day":1067.8,"value":2.57},{"series":"給水系注水流量","day":1093.4,"value":2.61},{"series":"給水系注水流量","day":1130,"value":2.53},{"series":"給水系注水流量","day":1155.7,"value":2.37},{"series":"給水系注水流量","day":1170.3,"value":2.26},{"series":"給水系注水流量","day":1175.8,"value":2.26},{"series":"給水系注水流量","day":1179.5,"value":2.57},{"series":"給水系注水流量","day":1192.3,"value":2.57},{"series":"給水系注水流量","day":1196,"value":2.34},{"series":"給水系注水流量","day":1199.7,"value":2.65},{"series":"給水系注水流量","day":1221.6,"value":2.61},{"series":"給水系注水流量","day":1254.6,"value":2.49},{"series":"給水系注水流量","day":1261.9,"value":2.3},{"series":"給水系注水流量","day":1274.8,"value":2.3},{"series":"給水系注水流量","day":1276.6,"value":2.57},{"series":"給水系注水流量","day":1280.2,"value":2.57},
{"series":"炉心スプレイ系注水流量","day":0,"value":0},{"series":"炉心スプレイ系注水流量","day":99.9,"value":0},{"series":"炉心スプレイ系注水流量","day":100.8,"value":1.98},{"series":"炉心スプレイ系注水流量","day":104.4,"value":1.9},{"series":"炉心スプレイ系注水流量","day":111.8,"value":1.98},{"series":"炉心スプレイ系注水流量","day":122.7,"value":1.87},{"series":"炉心スプレイ系注水流量","day":133.7,"value":1.59},{"series":"炉心スプレイ系注水流量","day":141,"value":1.98},{"series":"炉心スプレイ系注水流量","day":150.2,"value":1.98},{"series":"炉心スプレイ系注水流量","day":151.3,"value":0},{"series":"炉心スプレイ系注水流量","day":152.7,"value":1.94},{"series":"炉心スプレイ系注水流量","day":163,"value":1.71},{"series":"炉心スプレイ系注水流量","day":174,"value":1.79},{"series":"炉心スプレイ系注水流量","day":185,"value":1.94},{"series":"炉心スプレイ系注水流量","day":192.3,"value":1.63},{"series":"炉心スプレイ系注水流量","day":201.4,"value":1.55},{"series":"炉心スプレイ系注水流量","day":203.3,"value":1.98},{"series":"炉心スプレイ系注水流量","day":214.3,"value":1.94},{"series":"炉心スプレイ系注水流量","day":221.7,"value":1.71},{"series":"炉心スプレイ系注水流量","day":232.6,"value":1.67},{"series":"炉心スプレイ系注水流量","day":236.3,"value":2.1},{"series":"炉心スプレイ系注水流量","day":258.2,"value":2.1},{"series":"炉心スプレイ系注水流量","day":261.9,"value":1.71},{"series":"炉心スプレイ系注水流量","day":272.9,"value":1.94},{"series":"炉心スプレイ系注水流量","day":283.8,"value":1.71},{"series":"炉心スプレイ系注水流量","day":287.6,"value":1.98},{"series":"炉心スプレイ系注水流量","day":313.2,"value":1.98},{"series":"炉心スプレイ系注水流量","day":316.8,"value":1.87},{"series":"炉心スプレイ系注水流量","day":331.5,"value":2.02},{"series":"炉心スプレイ系注水流量","day":346.2,"value":2.26},{"series":"炉心スプレイ系注水流量","day":357.1,"value":2.1},{"series":"炉心スプレイ系注水流量","day":360.8,"value":2.02},{"series":"炉心スプレイ系注水流量","day":362.6,"value":1.55},{"series":"炉心スプレイ系注水流量","day":365.1,"value":1.55},{"series":"炉心スプレイ系注水流量","day":370,"value":2.1},{"series":"炉心スプレイ系注水流量","day":373.6,"value":1.79},{"series":"炉心スプレイ系注水流量","day":386.1,"value":1.98},{"series":"炉心スプレイ系注水流量","day":412.1,"value":1.9},{"series":"炉心スプレイ系注水流量","day":430.4,"value":2.02},{"series":"炉心スプレイ系注水流量","day":438.5,"value":2.0},{"series":"炉心スプレイ系注水流量","day":439.6,"value":0},{"series":"炉心スプレイ系注水流量","day":440.7,"value":2.0},{"series":"炉心スプレイ系注水流量","day":445,"value":2.1},{"series":"炉心スプレイ系注水流量","day":452.4,"value":2.49},{"series":"炉心スプレイ系注水流量","day":453.8,"value":1.71},{"series":"炉心スプレイ系注水流量","day":456,"value":1.71},{"series":"炉心スプレイ系注水流量","day":459.7,"value":1.94},{"series":"炉心スプレイ系注水流量","day":462.6,"value":2.49},{"series":"炉心スプレイ系注水流量","day":467,"value":2.49},{"series":"炉心スプレイ系注水流量","day":469.2,"value":1.94},{"series":"炉心スプレイ系注水流量","day":474.4,"value":1.98},{"series":"炉心スプレイ系注水流量","day":503.6,"value":2.02},{"series":"炉心スプレイ系注水流量","day":540.3,"value":1.87},{"series":"炉心スプレイ系注水流量","day":576.9,"value":1.94},{"series":"炉心スプレイ系注水流量","day":613.5,"value":1.94},{"series":"炉心スプレイ系注水流量","day":642.8,"value":1.79},{"series":"炉心スプレイ系注水流量","day":657.5,"value":1.71},{"series":"炉心スプレイ系注水流量","day":668.5,"value":2.02},{"series":"炉心スプレイ系注水流量","day":669.8,"value":2.0},{"series":"炉心スプレイ系注水流量","day":670.3,"value":0},{"series":"炉心スプレイ系注水流量","day":670.9,"value":0},{"series":"炉心スプレイ系注水流量","day":672.2,"value":1.94},{"series":"炉心スプレイ系注水流量","day":705.2,"value":1.9},{"series":"炉心スプレイ系注水流量","day":738.1,"value":1.87},{"series":"炉心スプレイ系注水流量","day":741.8,"value":2.06},{"series":"炉心スプレイ系注水流量","day":760.1,"value":2.02},{"series":"炉心スプレイ系注水流量","day":796.7,"value":1.94},{"series":"炉心スプレイ系注水流量","day":818.7,"value":1.9},{"series":"炉心スプレイ系注水流量","day":837,"value":1.79},{"series":"炉心スプレイ系注水流量","day":838.8,"value":2.1},{"series":"炉心スプレイ系注水流量","day":866.3,"value":2.1},{"series":"炉心スプレイ系注水流量","day":892,"value":2.02},{"series":"炉心スプレイ系注水流量","day":965.2,"value":2.02},{"series":"炉心スプレイ系注水流量","day":1001.8,"value":1.94},{"series":"炉心スプレイ系注水流量","day":1038.5,"value":1.9},{"series":"炉心スプレイ系注水流量","day":1064,"value":1.9},{"series":"炉心スプレイ系注水流量","day":1067.8,"value":2.12},{"series":"炉心スプレイ系注水流量","day":1111.8,"value":2.1},{"series":"炉心スプレイ系注水流量","day":1166.8,"value":2.02},{"series":"炉心スプレイ系注水流量","day":1221.6,"value":1.98},{"series":"炉心スプレイ系注水流量","day":1280.2,"value":2.02}
],
"boxes": [
{"shape":"a","i":0,"day":57,"value":99.5},{"shape":"a","i":1,"day":249.5,"value":99.5},{"shape":"a","i":2,"day":249.5,"value":93.5},{"shape":"a","i":3,"day":137.4,"value":93.5},{"shape":"a","i":4,"day":72.5,"value":90.0},{"shape":"a","i":5,"day":89,"value":93.5},{"shape":"a","i":6,"day":57,"value":93.5},{"shape":"a","i":7,"day":57,"value":99.5},
{"shape":"b","i":0,"day":1104.4,"value":39.1},{"shape":"b","i":1,"day":1277.7,"value":39.1},{"shape":"b","i":2,"day":1277.7,"value":33.1},{"shape":"b","i":3,"day":1175.8,"value":33.1},{"shape":"b","i":4,"day":1119,"value":29.8},{"shape":"b","i":5,"day":1133.7,"value":33.1},{"shape":"b","i":6,"day":1104.4,"value":33.1},{"shape":"b","i":7,"day":1104.4,"value":39.1},
{"shape":"c","i":0,"day":1318.7,"value":23.1},{"shape":"c","i":1,"day":1500,"value":23.1},{"shape":"c","i":2,"day":1500,"value":17.0},{"shape":"c","i":3,"day":1399.3,"value":17.0},{"shape":"c","i":4,"day":1334.8,"value":13.6},{"shape":"c","i":5,"day":1349.8,"value":17.0},{"shape":"c","i":6,"day":1318.7,"value":17.0},{"shape":"c","i":7,"day":1318.7,"value":23.1}
],
"brace": [
{"i":0,"day":1278,"value":20.7},{"i":1,"day":1302,"value":20.5},{"i":2,"day":1308.8,"value":19.7},{"i":3,"day":1308.8,"value":13.8},{"i":4,"day":1313.2,"value":13.0},{"i":5,"day":1342.9,"value":12.7},{"i":6,"day":1313.2,"value":12.5},{"i":7,"day":1308.8,"value":11.7},{"i":8,"day":1308.8,"value":5.5},{"i":9,"day":1302,"value":4.7},{"i":10,"day":1278,"value":4.5}
],
"notes": [
{"label":"給水系流量","day":153.8,"value":96.5},{"label":"平均温度","day":1190,"value":35.9},{"label":"温度の差分","day":1415,"value":19.7}
],
"ring": [{"day":79.7,"value":6.4}]
},
"layer": [
{
  "data": {"name": "temp"},
  "mark": {"type": "line", "strokeWidth": 3.5, "strokeJoin": "round"},
  "encoding": {
    "x": {"field": "day", "type": "quantitative", "scale": {"domain": [0, 1308], "nice": false, "zero": false},
      "axis": {"values": [0, 200, 400, 600, 800, 1000, 1200], "labelExpr": "['H23.9.1','H24.3.19','H24.10.5','H25.4.23','H25.11.9','H26.5.28','H26.12.14'][round(datum.value/200)]", "grid": true, "labelPadding": 21, "title": null, "orient": "bottom"}},
    "y": {"field": "value", "type": "quantitative", "scale": {"domain": [0, 100], "nice": false},
      "axis": {"values": [0,10,20,30,40,50,60,70,80,90,100], "grid": true, "labelPadding": 26, "title": "その他のHVH平均温度との差分[K]", "titleX": -93, "titleY": 424, "titleAngle": 270, "titleAlign": "center", "titleBaseline": "middle", "orient": "left"}},
    "color": {"field": "series", "type": "nominal",
      "scale": {"domain": ["261-13Aと平均温度の差分","1625Jと平均温度の差分","平均温度","給水系注水流量","1625Hと平均温度の差分","1625Kと平均温度の差分","注水流量（合計）","炉心スプレイ系注水流量"],
                "range": ["#5B9BD5","#A5A5A5","#0A7A0A","#FF0066","#ED7D31","#FFC000","#843C0C","#00FF00"]},
      "legend": {"title": null, "orient": "none", "legendX": 330, "legendY": 7, "columns": 2, "labelFont": "Noto Sans CJK JP", "labelFontSize": 30, "labelColor": "#595959", "labelLimit": 700, "symbolType": "stroke", "symbolSize": 1600, "symbolStrokeWidth": 4, "rowPadding": 5.5, "columnPadding": 14, "padding": 3, "strokeColor": "#BFBFBF", "fillColor": "white", "labelOffset": 5, "symbolOffset": 12}}
  }
},
{
  "data": {"name": "flow"},
  "mark": {"type": "line", "strokeWidth": 3.5, "strokeJoin": "round"},
  "encoding": {
    "x": {"field": "day", "type": "quantitative", "scale": {"domain": [0, 1308], "nice": false, "zero": false}},
    "y": {"field": "value", "type": "quantitative", "scale": {"domain": [-10, 10], "nice": false},
      "axis": {"values": [0,2,4,6,8,10], "grid": false, "labelPadding": 26, "title": "注水流量[m3/h]", "titleX": 95, "titleY": 317, "titleAngle": 270, "titleAlign": "center", "titleBaseline": "middle", "orient": "right"}},
    "color": {"field": "series", "type": "nominal",
      "scale": {"domain": ["261-13Aと平均温度の差分","1625Jと平均温度の差分","平均温度","給水系注水流量","1625Hと平均温度の差分","1625Kと平均温度の差分","注水流量（合計）","炉心スプレイ系注水流量"],
                "range": ["#5B9BD5","#A5A5A5","#0A7A0A","#FF0066","#ED7D31","#FFC000","#843C0C","#00FF00"]}}
  }
},
{
  "layer": [
    {
      "data": {"name": "boxes"},
      "mark": {"type": "line", "stroke": "black", "strokeWidth": 2, "fill": "white", "strokeJoin": "miter"},
      "encoding": {
        "x": {"field": "day", "type": "quantitative", "scale": {"domain": [0, 1308], "nice": false, "zero": false}},
        "y": {"field": "value", "type": "quantitative", "scale": {"domain": [0, 100], "nice": false}, "axis": null},
        "order": {"field": "i", "type": "quantitative"},
        "detail": {"field": "shape", "type": "nominal"}
      }
    },
    {
      "data": {"name": "brace"},
      "mark": {"type": "line", "stroke": "black", "strokeWidth": 2},
      "encoding": {
        "x": {"field": "day", "type": "quantitative", "scale": {"domain": [0, 1308], "nice": false, "zero": false}},
        "y": {"field": "value", "type": "quantitative", "scale": {"domain": [0, 100], "nice": false}, "axis": null},
        "order": {"field": "i", "type": "quantitative"}
      }
    },
    {
      "data": {"name": "notes"},
      "mark": {"type": "text", "font": "Noto Sans CJK JP", "fontSize": 26, "color": "#262626", "align": "center", "baseline": "middle"},
      "encoding": {
        "x": {"field": "day", "type": "quantitative", "scale": {"domain": [0, 1308], "nice": false, "zero": false}},
        "y": {"field": "value", "type": "quantitative", "scale": {"domain": [0, 100], "nice": false}, "axis": null},
        "text": {"field": "label", "type": "nominal"}
      }
    },
    {
      "data": {"name": "ring"},
      "mark": {"type": "point", "shape": "M0,-1A0.712,1,0,1,1,0,1A0.712,1,0,1,1,0,-1Z", "size": 12321, "filled": false, "stroke": "#FF0000", "strokeWidth": 6, "strokeDash": [20, 11], "opacity": 1},
      "encoding": {
        "x": {"field": "day", "type": "quantitative", "scale": {"domain": [0, 1308], "nice": false, "zero": false}},
        "y": {"field": "value", "type": "quantitative", "scale": {"domain": [0, 100], "nice": false}, "axis": null}
      }
    }
  ]
}
],
"resolve": {"scale": {"y": "independent"}}
}
